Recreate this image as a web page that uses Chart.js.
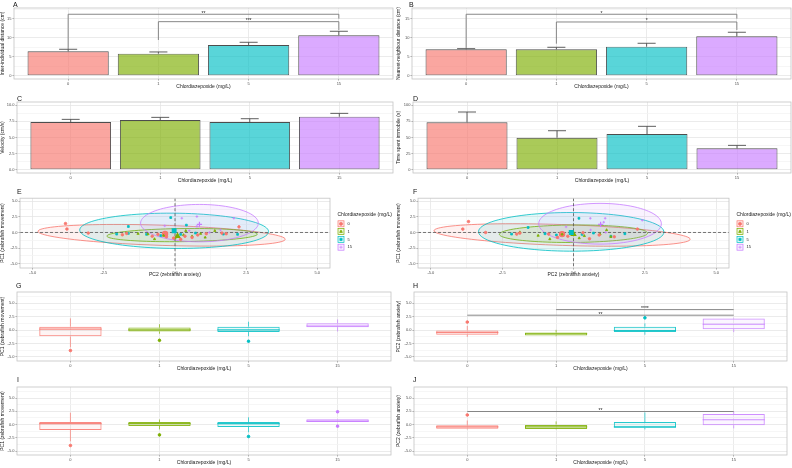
<!DOCTYPE html>
<html>
<head>
<meta charset="utf-8">
<script src="https://cdn.jsdelivr.net/npm/chart.js@4.4.1/dist/chart.umd.min.js"></script>
<style>
  body { margin: 0; background: #fff; }
  #fig { position: relative; width: 792px; height: 468px; overflow: hidden; font-family: "Liberation Sans", Arial, sans-serif; }
  #fig canvas { position: absolute; }
  .tag { position: absolute; font-size: 7px; line-height: 7px; color: #111; }
</style>
</head>
<body>
<div id="fig"></div>
<script>
// ---- data ----
const doses = ['0', '1', '5', '15'];
const groupColors = ['#F8766D', '#7CAE00', '#00BFC4', '#C77CFF'];
const groupShapes = ['circle', 'triangle', 'rect', 'cross'];

// A: inter-individual distance (mean, mean + se)
const interMean = [6.45, 5.82, 8.11, 10.67];
const interUpper = [6.98, 6.27, 8.82, 11.72];
const interSig = [
  { from: 0, to: 3, y: 16.2, left: 6.98, right: 15.04, label: '**' },
  { from: 1, to: 3, y: 14.25, left: 9.43, right: 12.06, label: '***' }
];
// B: nearest-neighbour distance
const nnMean = [6.98, 6.98, 7.66, 10.4];
const nnUpper = [7.14, 7.5, 8.56, 11.46];
const nnSig = [
  { from: 0, to: 3, y: 16.2, left: 7.3, right: 15.04, label: '*' },
  { from: 1, to: 3, y: 14.17, left: 8.45, right: 12.06, label: '*' }
];
// C: velocity
const velMean = [7.4, 7.71, 7.4, 8.22];
const velUpper = [7.81, 8.12, 7.91, 8.74];
// D: time spent immobile
const immMean = [73.5, 49.6, 55.3, 33.2];
const immUpper = [89.5, 60.5, 67.3, 37.8];

const distTicks = [0, 5, 10, 15];
const velTicks = [0, 2.5, 5, 7.5, 10];
const immTicks = [0, 25, 50, 75, 100];
const pcTicks = [-5, -2.5, 0, 2.5, 5];

// E / F: PCA scores per group [PC2, PC1]
const pcE0 = [[-3.85,1.43],[-3.8,0.55],[-3.05,-0.1],[-1.85,-0.37],[-1.7,-0.15],[-0.8,-0.6],[-0.6,-0.3],[-0.05,-0.9],[0.35,-0.6],[0.6,-0.8],[0.8,-0.4],[1.1,-0.2],[1.65,-0.1],[1.8,-0.2],[2.25,0.9],[0.2,-1.1],[-0.3,-0.7]];
const pcE1 = [[-1.3,-0.2],[-0.95,-0.26],[-0.72,-1.05],[-0.4,-0.5],[0.0,-0.9],[0.3,-0.4],[0.38,0.27],[0.6,-0.6],[0.9,-0.2],[1.06,-0.8],[1.4,0.27]];
const pcE5 = [[-2.05,-0.26],[-1.64,0.96],[-1.64,-0.15],[-1.0,-0.3],[-0.5,-0.5],[-0.15,2.39],[0.2,-0.3],[0.4,1.18],[0.72,-0.1],[1.7,-0.26],[2.2,-0.3]];
const pcE15 = [[-0.36,1.07],[0.24,2.29],[0.5,0.3],[0.77,2.55],[0.77,1.0],[1.21,0.0],[1.6,0.4],[2.07,2.29]];
const meanE = [[-0.35,-0.25],[0.09,-0.58],[-0.03,0.27],[0.86,1.3]];
// ellipse: centre x, centre y, semi-axis a, semi-axis b, angle (deg)
const ellE = [[-0.47,-0.45,4.4,1.6,-9.6],[0.25,-0.42,2.65,1.05,4],[-0.03,0.27,3.33,2.82,-8],[0.86,1.5,2.07,3.0,0]];

const pcF0 = [[-3.68,1.75],[-3.88,0.54],[-3.08,0.0],[-1.99,-0.26],[-1.88,-0.1],[-0.87,-0.26],[-0.56,-0.79],[0.33,-0.05],[0.56,-1.0],[1.43,-0.69],[2.24,0.54],[0.9,-0.4],[-0.2,-0.6]];
const pcF1 = [[-1.88,0.05],[-1.24,-0.5],[-0.83,-1.05],[0.38,-0.55],[0.93,-0.26],[1.16,0.4],[1.31,-0.69],[0.2,-0.9],[-0.4,-0.3]];
const pcF5 = [[-2.17,-0.26],[-1.59,0.8],[0.19,2.28],[1.31,-0.6],[0.7,-0.1],[-0.6,-0.4],[0.3,-0.3],[1.8,-0.2],[-1.0,-0.2]];
const pcF15 = [[-0.26,0.9],[0.59,2.28],[1.06,1.65],[1.11,2.28],[1.13,0.0],[2.41,1.96],[0.6,0.4]];
const meanF = [[-0.4,-0.26],[0.0,-0.26],[-0.08,0.0],[0.95,1.3]];
const ellF = [[-0.4,-0.4,4.55,1.65,-10],[0.0,-0.2,2.6,1.4,3],[-0.08,0.1,3.25,3.1,-5],[0.93,1.4,2.15,3.27,0]];

// G-J: box stats [lower whisker, q1, median, q3, upper whisker] + outliers
const boxG = [[-3.2,-1.16,0.18,0.65,2.18],[-0.67,-0.25,0.05,0.47,1.1],[-1.16,-0.37,0.05,0.65,1.56],[-0.25,0.55,0.78,1.27,2.0]];
const outG = [[-3.8],[-1.9],[-2.07],[]];
const boxH = [[-1.27,-0.85,-0.44,-0.07,0.78],[-1.16,-0.98,-0.67,-0.44,0.05],[-0.85,-0.37,-0.07,0.65,1.27],[-0.37,0.18,1.09,2.18,2.29]];
const outH = [[1.5],[],[2.29],[]];
const sigH = [{ from: 0, to: 3, y: 2.78, label: '**' }, { from: 1, to: 3, y: 3.82, label: '****' }];
const boxI = [[-3.16,-1.04,0.18,0.47,2.24],[-0.91,-0.25,0.18,0.47,0.96],[-1.45,-0.44,0.18,0.47,1.38],[0.47,0.47,0.65,1.02,1.02]];
const outI = [[-3.95],[-1.95],[-2.25],[2.42,-0.3]];
const boxJ = [[-0.91,-0.8,-0.44,-0.13,0.78],[-0.91,-0.85,-0.44,0.0,0.6],[-0.91,-0.62,-0.44,0.47,2.3],[-0.73,-0.13,0.91,2.0,2.47]];
const outJ = [[1.82],[],[],[]];
const sigJ = [{ from: 0, to: 3, y: 2.47, label: '**' }];

// ---- helpers ----
Chart.defaults.font.family = '"Liberation Sans", Arial, sans-serif';
Chart.defaults.color = '#4d4d4d';
const fig = document.getElementById('fig');
const FONT = '"Liberation Sans", Arial, sans-serif';

function rgba(hex, a) {
  const n = parseInt(hex.slice(1), 16);
  return `rgba(${n >> 16},${(n >> 8) & 255},${n & 255},${a})`;
}

function tag(letter, x, y) {
  const d = document.createElement('div');
  d.className = 'tag';
  d.textContent = letter;
  d.style.left = x + 'px';
  d.style.top = y + 'px';
  fig.appendChild(d);
}

const frame = {
  id: 'frame',
  afterDatasetsDraw(chart) {
    const a = chart.chartArea, ctx = chart.ctx;
    ctx.save();
    ctx.strokeStyle = '#c4c4c4';
    ctx.lineWidth = 0.8;
    ctx.strokeRect(a.left, a.top, a.right - a.left, a.bottom - a.top);
    ctx.restore();
  }
};

function mount(box, config) {
  const colLeft = box.l < 396 ? 0 : 396;
  const right = colLeft + 396;
  const top = box.t - 4, bottom = box.b + 11;
  const w = right - colLeft, h = bottom - top;
  const c = document.createElement('canvas');
  c.width = w; c.height = h;
  Object.assign(c.style, { left: colLeft + 'px', top: top + 'px', width: w + 'px', height: h + 'px' });
  fig.appendChild(c);
  const o = config.options;
  o.responsive = false;
  o.animation = false;
  o.devicePixelRatio = 1;
  o.layout = { padding: { top: 4, right: right - box.r, bottom: 0, left: 0 } };
  o.plugins = { legend: { display: false }, tooltip: { enabled: false } };
  o.scales.y.afterFit = s => { s.width = box.l - colLeft; };
  o.scales.x.afterFit = s => { s.height = 11; };
  config.plugins = (config.plugins || []).concat(frame);
  return new Chart(c, config);
}

function withMinors(majors, min, max) {
  const step = majors[1] - majors[0];
  const vals = majors.map(v => ({ value: v }));
  [majors[0] - step / 2, ...majors.map(v => v + step / 2)].forEach(v => {
    if (v > min && v < max) vals.push({ value: v, minor: true });
  });
  return vals.sort((a, b) => a.value - b.value);
}

function valueAxis(title, min, max, majors, fmt) {
  return {
    type: 'linear', min, max,
    afterBuildTicks: s => { s.ticks = withMinors(majors, min, max); },
    ticks: { font: { size: 4 }, color: '#4d4d4d', padding: 1, autoSkip: false,
      callback: v => majors.includes(v) ? fmt(v) : '' },
    grid: { color: c => c.tick && c.tick.minor ? '#f4f4f4' : '#e6e6e6', lineWidth: 0.8, tickLength: 1.5,
      tickColor: c => c.tick && c.tick.minor ? 'rgba(0,0,0,0)' : '#4d4d4d', tickWidth: 0.5 },
    border: { display: false },
    title: { display: true, text: title, font: { size: 5 }, color: '#1a1a1a', padding: { top: 0, bottom: 1 } }
  };
}

function doseAxis() {
  return {
    type: 'linear', min: -0.6, max: 3.6, offset: false,
    afterBuildTicks: s => { s.ticks = doses.map((d, i) => ({ value: i })); },
    ticks: { font: { size: 4 }, color: '#4d4d4d', padding: 0.5, autoSkip: false, maxRotation: 0,
      callback: v => doses[v] },
    grid: { offset: false, color: '#e6e6e6', lineWidth: 0.8, tickLength: 1.5, tickColor: '#4d4d4d', tickWidth: 0.5 },
    border: { display: false },
    title: { display: true, text: 'Chlordiazepoxide (mg/L)', font: { size: 5 }, color: '#1a1a1a', padding: { top: 0, bottom: 0 } }
  };
}

function pcAxis(title, min, max) {
  const ax = valueAxis(title, min, max, pcTicks, v => v.toFixed(1));
  return ax;
}

function errorBars(mean, upper) {
  return {
    id: 'errorBars',
    afterDatasetsDraw(chart) {
      const { ctx, scales: { x, y } } = chart;
      ctx.save();
      ctx.strokeStyle = '#4d4d4d';
      ctx.lineWidth = 0.9;
      mean.forEach((m, i) => {
        const px = x.getPixelForValue(i);
        const x1 = x.getPixelForValue(i - 0.1), x2 = x.getPixelForValue(i + 0.1);
        const yt = y.getPixelForValue(upper[i]);
        ctx.beginPath();
        ctx.moveTo(px, y.getPixelForValue(m));
        ctx.lineTo(px, yt);
        ctx.moveTo(x1, yt);
        ctx.lineTo(x2, yt);
        ctx.stroke();
      });
      ctx.restore();
    }
  };
}

function brackets(items) {
  return {
    id: 'brackets',
    afterDatasetsDraw(chart) {
      const { ctx, scales: { x, y } } = chart;
      ctx.save();
      ctx.strokeStyle = '#7a7a7a';
      ctx.lineWidth = 0.9;
      ctx.fillStyle = '#1a1a1a';
      ctx.font = '5px ' + FONT;
      ctx.textAlign = 'center';
      ctx.textBaseline = 'alphabetic';
      items.forEach(b => {
        const x1 = x.getPixelForValue(b.from), x2 = x.getPixelForValue(b.to);
        const yy = y.getPixelForValue(b.y);
        ctx.beginPath();
        ctx.moveTo(x1, y.getPixelForValue(b.left !== undefined ? b.left : b.y));
        ctx.lineTo(x1, yy);
        ctx.lineTo(x2, yy);
        ctx.lineTo(x2, y.getPixelForValue(b.right !== undefined ? b.right : b.y));
        ctx.stroke();
        ctx.fillText(b.label, (x1 + x2) / 2, yy + 0.5);
      });
      ctx.restore();
    }
  };
}

function ellipses(ells) {
  return {
    id: 'ellipses',
    beforeDatasetsDraw(chart) {
      const { ctx, chartArea: a, scales: { x, y } } = chart;
      ctx.save();
      ctx.beginPath();
      ctx.rect(a.left, a.top, a.right - a.left, a.bottom - a.top);
      ctx.clip();
      ells.forEach((e, g) => {
        const [cx, cy, ra, rb, deg] = e;
        const th = deg * Math.PI / 180;
        ctx.beginPath();
        for (let k = 0; k <= 96; k++) {
          const t = k / 96 * 2 * Math.PI;
          const dx = ra * Math.cos(t), dy = rb * Math.sin(t);
          const px = x.getPixelForValue(cx + dx * Math.cos(th) - dy * Math.sin(th));
          const py = y.getPixelForValue(cy + dx * Math.sin(th) + dy * Math.cos(th));
          if (k) ctx.lineTo(px, py); else ctx.moveTo(px, py);
        }
        ctx.closePath();
        ctx.fillStyle = rgba(groupColors[g], 0.1);
        ctx.fill();
        ctx.strokeStyle = groupColors[g];
        ctx.lineWidth = 0.8;
        ctx.stroke();
      });
      // dashed reference lines at zero
      ctx.strokeStyle = '#555';
      ctx.lineWidth = 0.8;
      ctx.setLineDash([3, 2]);
      ctx.beginPath();
      ctx.moveTo(x.getPixelForValue(0), a.top);
      ctx.lineTo(x.getPixelForValue(0), a.bottom);
      ctx.moveTo(a.left, y.getPixelForValue(0));
      ctx.lineTo(a.right, y.getPixelForValue(0));
      ctx.stroke();
      ctx.restore();
    }
  };
}

function groupLegend(title) {
  return {
    id: 'groupLegend',
    afterDraw(chart) {
      const { ctx, chartArea: a } = chart;
      const mid = (a.top + a.bottom) / 2;
      const x0 = a.right + 7.5;
      ctx.save();
      ctx.textAlign = 'left';
      ctx.textBaseline = 'middle';
      ctx.fillStyle = '#1a1a1a';
      ctx.font = '5px ' + FONT;
      ctx.fillText(title, x0, mid - 18.5);
      doses.forEach((d, g) => {
        const cy = mid - 9.3 + 7.8 * g;
        ctx.fillStyle = rgba(groupColors[g], 0.12);
        ctx.fillRect(x0 + 0.5, cy - 3, 6, 6);
        ctx.strokeStyle = groupColors[g];
        ctx.lineWidth = 0.7;
        ctx.strokeRect(x0 + 0.5, cy - 3, 6, 6);
        ctx.fillStyle = groupColors[g];
        Chart.helpers.drawPoint(ctx, { pointStyle: groupShapes[g], radius: 1.6, borderWidth: 0.8, rotation: 0 }, x0 + 3.5, cy);
        ctx.fillStyle = '#1a1a1a';
        ctx.font = '4px ' + FONT;
        ctx.fillText(d, x0 + 10, cy);
      });
      ctx.restore();
    }
  };
}

function whiskers(stats) {
  return {
    id: 'whiskers',
    afterDatasetsDraw(chart) {
      const { ctx, scales: { x, y } } = chart;
      ctx.save();
      stats.forEach((s, i) => {
        const [lo, q1, med, q3, hi] = s;
        const px = x.getPixelForValue(i);
        ctx.strokeStyle = rgba(groupColors[i], 0.85);
        ctx.lineWidth = 0.8;
        ctx.beginPath();
        ctx.moveTo(px, y.getPixelForValue(hi));
        ctx.lineTo(px, y.getPixelForValue(q3));
        ctx.moveTo(px, y.getPixelForValue(q1));
        ctx.lineTo(px, y.getPixelForValue(lo));
        ctx.stroke();
        ctx.lineWidth = 1.1;
        ctx.beginPath();
        ctx.moveTo(x.getPixelForValue(i - 0.35), y.getPixelForValue(med));
        ctx.lineTo(x.getPixelForValue(i + 0.35), y.getPixelForValue(med));
        ctx.stroke();
      });
      ctx.restore();
    }
  };
}

// ---- panels ----
function barPanel(box, title, min, max, ticks, fmt, mean, upper, sig) {
  const plugins = [errorBars(mean, upper)];
  if (sig) plugins.push(brackets(sig));
  mount(box, {
    type: 'bar',
    data: {
      datasets: [{
        data: mean.map((v, i) => ({ x: i, y: v })),
        backgroundColor: groupColors.map(c => rgba(c, 0.65)),
        borderColor: '#4d4d4d',
        borderWidth: 0.9,
        borderSkipped: false,
        categoryPercentage: 0.9,
        barPercentage: 1
      }]
    },
    options: { scales: { x: doseAxis(), y: valueAxis(title, min, max, ticks, fmt) } },
    plugins
  });
}

function pcaPanel(box, groups, means, ells) {
  const datasets = [];
  groups.forEach((pts, g) => {
    datasets.push({
      data: pts.map(p => ({ x: p[0], y: p[1] })),
      pointStyle: groupShapes[g], pointRadius: 1.3, borderWidth: 0.8,
      backgroundColor: groupColors[g], borderColor: groupColors[g]
    });
  });
  datasets.push({
    data: means.map(p => ({ x: p[0], y: p[1] })),
    pointStyle: groupShapes, pointRadius: 2.6, borderWidth: 1.2,
    backgroundColor: groupColors, borderColor: groupColors
  });
  mount(box, {
    type: 'scatter',
    data: { datasets },
    options: { scales: {
      x: Object.assign(pcAxis('PC2 (zebrafish anxiety)', -5.45, 5.45), { offset: false }),
      y: pcAxis('PC1 (zebrafish movement)', -5.7, 5.5)
    } },
    plugins: [ellipses(ells), groupLegend('Chlordiazepoxide (mg/L)')]
  });
}

function boxPanel(box, title, stats, outliers, sig) {
  const outPts = [], outCols = [];
  outliers.forEach((vals, i) => vals.forEach(v => { outPts.push({ x: i, y: v }); outCols.push(groupColors[i]); }));
  const plugins = [whiskers(stats)];
  if (sig) plugins.push(brackets(sig));
  mount(box, {
    type: 'bar',
    data: {
      datasets: [{
        data: stats.map((s, i) => ({ x: i, y: [s[1], s[3]] })),
        backgroundColor: groupColors.map(c => rgba(c, 0.08)),
        borderColor: groupColors.map(c => rgba(c, 0.85)),
        borderWidth: 1,
        borderSkipped: false,
        categoryPercentage: 1,
        barPercentage: 0.7
      }, {
        type: 'scatter',
        data: outPts,
        pointRadius: 1.3,
        pointBackgroundColor: outCols,
        pointBorderColor: outCols
      }]
    },
    options: { scales: { x: doseAxis(), y: valueAxis(title, -5.75, 7.1, pcTicks, v => v.toFixed(1)) } },
    plugins
  });
}

barPanel({ l: 14, t: 8, r: 393, b: 79 }, 'Inter-individual distance (cm)', -0.85, 17.85, distTicks, v => String(v), interMean, interUpper, interSig);
barPanel({ l: 412, t: 8, r: 791, b: 79 }, 'Nearest-neighbour distance (cm)', -0.85, 17.85, distTicks, v => String(v), nnMean, nnUpper, nnSig);
barPanel({ l: 17, t: 102, r: 393, b: 173 }, 'Velocity (cm/s)', -0.5, 10.5, velTicks, v => v.toFixed(1), velMean, velUpper);
barPanel({ l: 413, t: 102, r: 791, b: 173 }, 'Time spent immobile (s)', -5, 105, immTicks, v => String(v), immMean, immUpper);
pcaPanel({ l: 20, t: 197, r: 330, b: 268 }, [pcE0, pcE1, pcE5, pcE15], meanE, ellE);
pcaPanel({ l: 418, t: 197, r: 729, b: 268 }, [pcF0, pcF1, pcF5, pcF15], meanF, ellF);
boxPanel({ l: 17, t: 291, r: 393, b: 361 }, 'PC1 (zebrafish movement)', boxG, outG);
boxPanel({ l: 414, t: 291, r: 791, b: 361 }, 'PC2 (zebrafish anxiety)', boxH, outH, sigH);
boxPanel({ l: 17, t: 386, r: 393, b: 455 }, 'PC1 (zebrafish movement)', boxI, outI);
boxPanel({ l: 414, t: 386, r: 791, b: 455 }, 'PC2 (zebrafish anxiety)', boxJ, outJ, sigJ);

[['A', 13, 1], ['B', 409, 1], ['C', 17, 95], ['D', 413, 95], ['E', 17, 188], ['F', 413, 188],
 ['G', 16, 282], ['H', 413, 282], ['I', 17, 376], ['J', 413, 376]].forEach(t => tag(t[0], t[1], t[2]));
</script>
</body>
</html>
